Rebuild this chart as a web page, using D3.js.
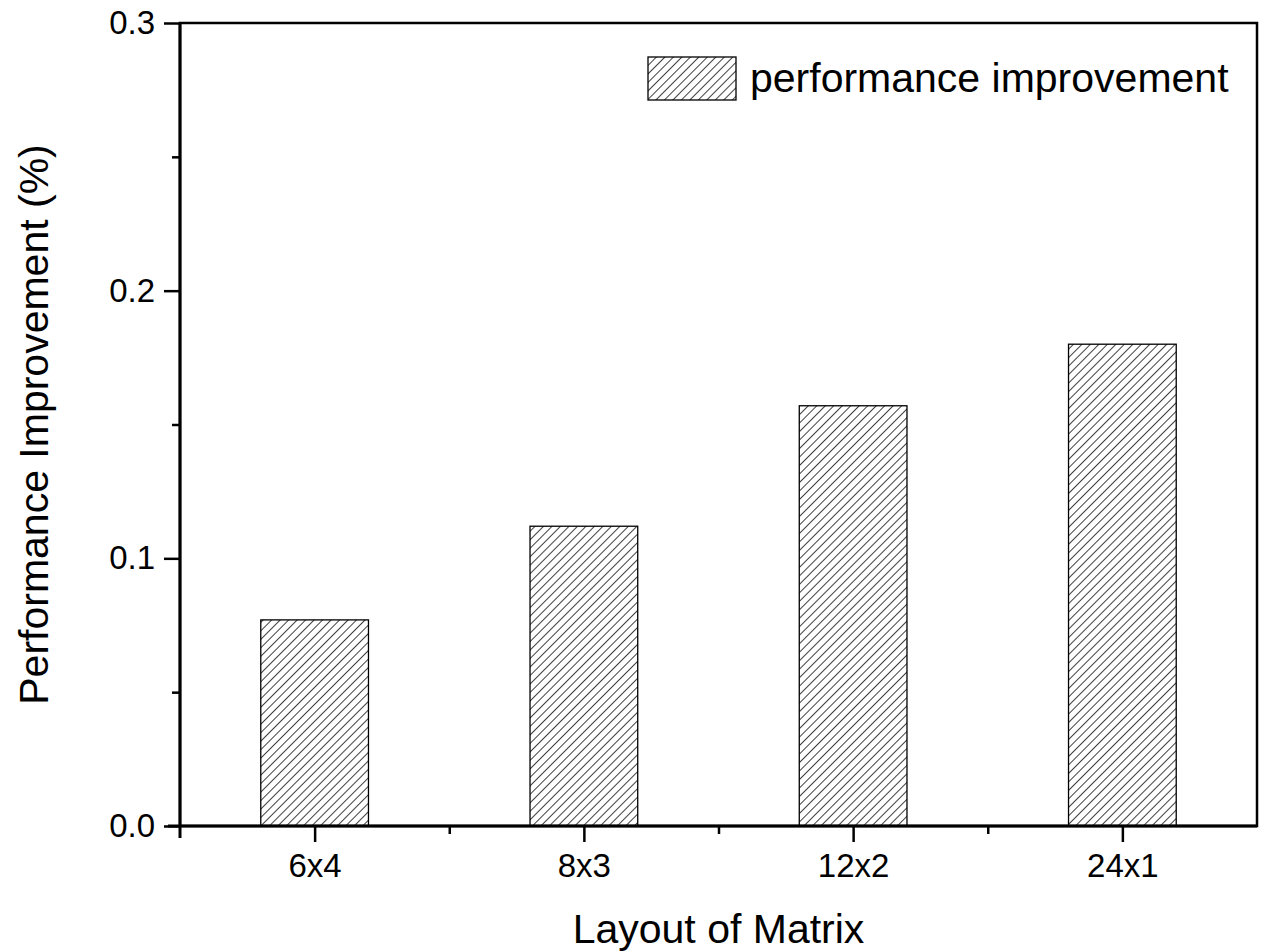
<!DOCTYPE html>
<html><head><meta charset="utf-8">
<script src="https://cdn.jsdelivr.net/npm/d3@7"></script>
<style>body{margin:0;background:#fff}svg{display:block}text{font-family:"Liberation Sans",Arial,sans-serif;fill:#000}</style>
</head><body>
<svg id="c" width="1262" height="951"></svg>
<script>
const categories = ["6x4","8x3","12x2","24x1"];
const values = [0.077, 0.112, 0.157, 0.180];
const yTicks = [0.0, 0.1, 0.2, 0.3];
const yMinorTicks = [0.05, 0.15, 0.25];
const seriesName = "performance improvement";
const xTitle = "Layout of Matrix";
const yTitle = "Performance Improvement (%)";

const svg = d3.select("#c");
const L = 180, R = 1257, T = 23, B = 826;
const x = d3.scaleLinear().domain([0.5, 4.5]).range([L, R]);
const y = d3.scaleLinear().domain([0, 0.3]).range([B, T]);

const defs = svg.append("defs");
const pat = defs.append("pattern").attr("id","hatch").attr("patternUnits","userSpaceOnUse")
  .attr("width",6).attr("height",6).attr("patternTransform","rotate(45)");
pat.append("rect").attr("width",6).attr("height",6).attr("fill","#fff");
pat.append("line").attr("x1",0).attr("y1",-1).attr("x2",0).attr("y2",7).attr("stroke","#000").attr("stroke-width",1.5);

const bw = (x(2)-x(1))*0.4;
svg.selectAll("rect.bar").data(values).join("rect").attr("class","bar")
  .attr("x",(d,i)=>x(i+1)-bw/2).attr("width",bw)
  .attr("y",d=>y(d)).attr("height",d=>B-y(d))
  .attr("fill","url(#hatch)").attr("stroke","#000").attr("stroke-width",1.3);

// frame
svg.append("rect").attr("x",L).attr("y",T).attr("width",R-L).attr("height",B-T)
  .attr("fill","none").attr("stroke","#000").attr("stroke-width",2.5);

// y axis
const yAxis = d3.axisLeft(y).tickValues(yTicks).tickFormat(d3.format(".1f")).tickSize(16).tickPadding(8);
const gy = svg.append("g").attr("transform",`translate(${L},0)`).call(yAxis);
gy.select(".domain").remove();
gy.selectAll(".tick line").attr("stroke-width",2.5);
gy.selectAll("text").attr("font-size",33).attr("font-family","Liberation Sans, Arial, sans-serif").attr("dx",-1);
const gym = svg.append("g").attr("transform",`translate(${L},0)`).call(d3.axisLeft(y).tickValues(yMinorTicks).tickSize(8).tickFormat(""));
gym.select(".domain").remove();
gym.selectAll(".tick line").attr("stroke-width",2.5);

// x axis
const xAxis = d3.axisBottom(x).tickValues(categories.map((c,i)=>i+1)).tickFormat((d)=>categories[d-1]).tickSize(16).tickPadding(12);
const gx = svg.append("g").attr("transform",`translate(0,${B})`).call(xAxis);
gx.select(".domain").remove();
gx.selectAll(".tick line").attr("stroke-width",2.5);
gx.selectAll("text").attr("font-size",33).attr("font-family","Liberation Sans, Arial, sans-serif");
const gxm = svg.append("g").attr("transform",`translate(0,${B})`).call(d3.axisBottom(x).tickValues([1.5,2.5,3.5]).tickSize(8).tickFormat(""));
gxm.select(".domain").remove();
gxm.selectAll(".tick line").attr("stroke-width",2.5);
svg.append("line").attr("x1",L-12).attr("x2",R).attr("y1",B).attr("y2",B).attr("stroke","#000").attr("stroke-width",3);
svg.append("line").attr("x1",L).attr("x2",L).attr("y1",T).attr("y2",B+12).attr("stroke","#000").attr("stroke-width",3);

// titles
svg.append("text").attr("x",(L+R)/2).attr("y",943).attr("text-anchor","middle").attr("font-size",41).text(xTitle);
svg.append("text").attr("transform",`translate(48,${(T+B)/2}) rotate(-90)`).attr("text-anchor","middle").attr("font-size",41).text(yTitle);

// legend
svg.append("rect").attr("x",648).attr("y",57).attr("width",88).attr("height",43)
  .attr("fill","url(#hatch)").attr("stroke","#000").attr("stroke-width",1.3);
svg.append("text").attr("x",750).attr("y",92).attr("font-size",41).text(seriesName);
</script>
</body></html>
